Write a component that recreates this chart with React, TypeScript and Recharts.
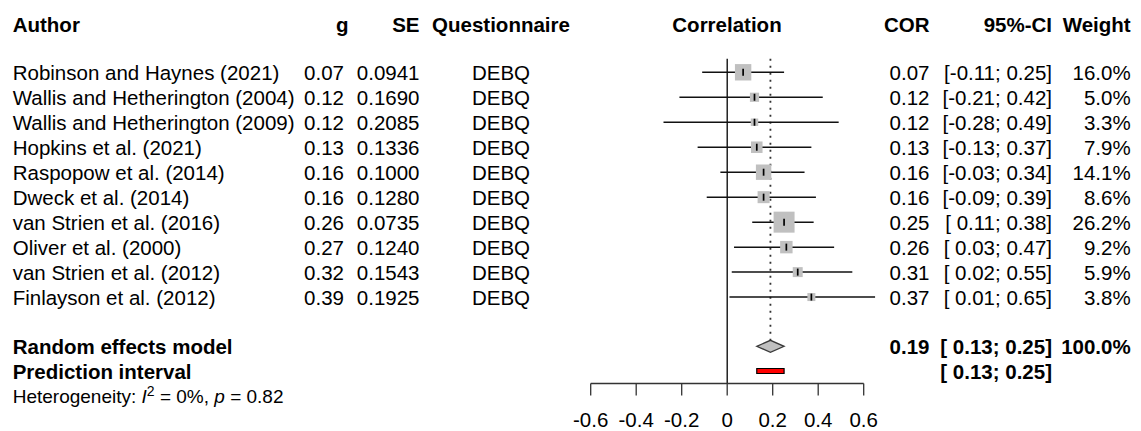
import React from 'react';
import {
  ComposedChart,
  Scatter,
  XAxis,
  YAxis,
  ReferenceLine,
  ReferenceArea,
  ErrorBar,
  Customized,
} from 'recharts';

const FONT = '"Liberation Sans", Arial, Helvetica, sans-serif';

// ---------- data ----------
const authors = [
  'Robinson and Haynes (2021)',
  'Wallis and Hetherington (2004)',
  'Wallis and Hetherington (2009)',
  'Hopkins et al. (2021)',
  'Raspopow et al. (2014)',
  'Dweck et al. (2014)',
  'van Strien et al. (2016)',
  'Oliver et al. (2000)',
  'van Strien et al. (2012)',
  'Finlayson et al. (2012)',
];
const gValues = ['0.07', '0.12', '0.12', '0.13', '0.16', '0.16', '0.26', '0.27', '0.32', '0.39'];
const seValues = ['0.0941', '0.1690', '0.2085', '0.1336', '0.1000', '0.1280', '0.0735', '0.1240', '0.1543', '0.1925'];
const questionnaires = ['DEBQ', 'DEBQ', 'DEBQ', 'DEBQ', 'DEBQ', 'DEBQ', 'DEBQ', 'DEBQ', 'DEBQ', 'DEBQ'];
const corValues = [0.07, 0.12, 0.12, 0.13, 0.16, 0.16, 0.25, 0.26, 0.31, 0.37];
const ciLower = [-0.11, -0.21, -0.28, -0.13, -0.03, -0.09, 0.11, 0.03, 0.02, 0.01];
const ciUpper = [0.25, 0.42, 0.49, 0.37, 0.34, 0.39, 0.38, 0.47, 0.55, 0.65];
const weights = [16.0, 5.0, 3.3, 7.9, 14.1, 8.6, 26.2, 9.2, 5.9, 3.8];

const pooledEst = 0.19;
const pooledLower = 0.13;
const pooledUpper = 0.25;
const pooledWeight = 100.0;
const predLower = 0.13;
const predUpper = 0.25;
const hetI2 = '0%';
const hetP = '0.82';

const xTicks = [-0.6, -0.4, -0.2, 0, 0.2, 0.4, 0.6];
const headers = ['Author', 'g', 'SE', 'Questionnaire', 'Correlation', 'COR', '95%-CI', 'Weight'];

// row positions (row units on the y axis)
const ROW0 = 0.54;
const SUMMARY_ROW = 11.51;
const PRED_ROW = 12.5;

const fmtCI = (lo: number, hi: number) => {
  const f = (v: number) => (v < 0 ? v.toFixed(2) : ' ' + v.toFixed(2));
  return '[' + f(lo) + ';' + ' ' + hi.toFixed(2) + ']';
};

const studies = authors.map((a, i) => ({
  x: corValues[i],
  y: ROW0 + i,
  weight: weights[i],
  err: [corValues[i] - ciLower[i], ciUpper[i] - corValues[i]],
}));

const textRows = [
  ...authors.map((a, i) => ({
    x: 0,
    y: ROW0 + i,
    author: a,
    g: gValues[i],
    se: seValues[i],
    q: questionnaires[i],
    cor: corValues[i].toFixed(2),
    ci: fmtCI(ciLower[i], ciUpper[i]),
    w: weights[i].toFixed(1) + '%',
    bold: false,
  })),
  {
    x: 0,
    y: SUMMARY_ROW,
    author: 'Random effects model',
    g: '',
    se: '',
    q: '',
    cor: pooledEst.toFixed(2),
    ci: fmtCI(pooledLower, pooledUpper),
    w: pooledWeight.toFixed(1) + '%',
    bold: true,
  },
  {
    x: 0,
    y: PRED_ROW,
    author: 'Prediction interval',
    g: '',
    se: '',
    q: '',
    cor: '',
    ci: fmtCI(predLower, predUpper),
    w: '',
    bold: true,
  },
];

// column x anchors
const COL = {
  author: 12.7,
  g: 344,
  se: 419.5,
  q: 501,
  corr: 727,
  cor: 929.5,
  ci: 1052,
  w: 1130.7,
};

const FS = 20.5;

const SquareShape = (props: any) => {
  const { cx, cy, payload } = props;
  if (cx == null || cy == null) return <g />;
  const s = 4.1 * Math.sqrt(payload.weight);
  return <rect x={cx - s / 2} y={cy - s / 2} width={s} height={s} fill="#C0C0C0" />;
};

const TickShape = (props: any) => {
  const { cx, cy } = props;
  if (cx == null || cy == null) return <g />;
  return <line x1={cx} x2={cx} y1={cy - 3.5} y2={cy + 3.5} stroke="#000" strokeWidth={1.7} />;
};

const RowText = (props: any) => {
  const { cy, payload } = props;
  if (cy == null) return <g />;
  const y = cy + 7.5;
  const fw = payload.bold ? 'bold' : 'normal';
  return (
    <g fontFamily={FONT} fontSize={FS} fill="#000" fontWeight={fw} style={{ whiteSpace: 'pre' }}>
      <text x={COL.author} y={y}>{payload.author}</text>
      {payload.g ? <text x={COL.g} y={y} textAnchor="end">{payload.g}</text> : null}
      {payload.se ? <text x={COL.se} y={y} textAnchor="end">{payload.se}</text> : null}
      {payload.q ? <text x={COL.q} y={y} textAnchor="middle">{payload.q}</text> : null}
      {payload.cor ? <text x={COL.cor} y={y} textAnchor="end">{payload.cor}</text> : null}
      {payload.ci ? <text x={COL.ci} y={y} textAnchor="end" xmlSpace="preserve">{payload.ci}</text> : null}
      {payload.w ? <text x={COL.w} y={y} textAnchor="end">{payload.w}</text> : null}
    </g>
  );
};

const DiamondShape = (props: any) => {
  const { x, y, width, height } = props;
  if (x == null) return <g />;
  const xm = x + (width * (pooledEst - pooledLower)) / (pooledUpper - pooledLower);
  const ym = y + height / 2;
  const pts = `${x},${ym} ${xm},${y} ${x + width},${ym} ${xm},${y + height}`;
  return <polygon points={pts} fill="#C0C0C0" stroke="#3a3a3a" strokeWidth={1.3} />;
};

const StaticText = () => (
  <g fontFamily={FONT} fill="#000">
    <g fontSize={FS} fontWeight="bold">
      <text x={COL.author} y={31.7}>{headers[0]}</text>
      <text x={348.5} y={31.7} textAnchor="end">{headers[1]}</text>
      <text x={COL.se} y={31.7} textAnchor="end">{headers[2]}</text>
      <text x={COL.q} y={31.7} textAnchor="middle">{headers[3]}</text>
      <text x={COL.corr} y={31.7} textAnchor="middle">{headers[4]}</text>
      <text x={COL.cor} y={31.7} textAnchor="end">{headers[5]}</text>
      <text x={COL.ci} y={31.7} textAnchor="end">{headers[6]}</text>
      <text x={COL.w} y={31.7} textAnchor="end">{headers[7]}</text>
    </g>
    <text x={COL.author} y={403.3} fontSize={19}>
      <tspan>Heterogeneity: </tspan>
      <tspan fontStyle="italic">I</tspan>
      <tspan fontSize={14} dy={-7}>2</tspan>
      <tspan dy={7}>{' = ' + hetI2 + ', '}</tspan>
      <tspan fontStyle="italic">p</tspan>
      <tspan>{' = ' + hetP}</tspan>
    </text>
  </g>
);

export default function App() {
  return (
    <div style={{ position: 'absolute', left: 0, top: 0, background: '#fff' }}>
      <ComposedChart
        width={1141}
        height={431}
        margin={{ top: 58.8, right: 254.55, bottom: 7.5, left: 567.95 }}
      >
        <XAxis
          type="number"
          dataKey="x"
          domain={[-0.7, 0.7]}
          ticks={xTicks}
          interval={0}
          tickFormatter={(v: number) => (v === 0 ? '0' : v.toFixed(1))}
          axisLine={false}
          tickLine={{ stroke: '#333', strokeWidth: 1.3 }}
          tickSize={12}
          tickMargin={17.4}
          height={40}
          tick={{ fill: '#000', fontSize: FS, fontFamily: FONT }}
        />
        <YAxis type="number" dataKey="y" domain={[0, 13]} reversed hide />

        <ReferenceLine x={0} stroke="#000" strokeWidth={1.3} />
        <ReferenceLine
          segment={[{ x: -0.6, y: 13 }, { x: 0.6, y: 13 }]}
          stroke="#333"
          strokeWidth={1.3}
        />
        <ReferenceLine
          segment={[{ x: pooledEst, y: 0 }, { x: pooledEst, y: 11.27 }]}
          stroke="#333"
          strokeWidth={1.8}
          strokeDasharray="2 5"
        />

        <Scatter data={studies} shape={SquareShape} isAnimationActive={false} />
        <Scatter data={studies} shape={TickShape} isAnimationActive={false}>
          <ErrorBar
            dataKey="err"
            direction="x"
            width={0}
            stroke="#111"
            strokeWidth={1.5}
            isAnimationActive={false}
          />
        </Scatter>

        <ReferenceArea
          x1={pooledLower}
          x2={pooledUpper}
          y1={SUMMARY_ROW - 0.24}
          y2={SUMMARY_ROW + 0.24}
          shape={DiamondShape}
        />
        <ReferenceArea
          x1={predLower}
          x2={predUpper}
          y1={PRED_ROW - 0.1}
          y2={PRED_ROW + 0.1}
          fill="#FF0000"
          fillOpacity={1}
          stroke="#000"
          strokeWidth={1.2}
        />

        <Scatter data={textRows} shape={RowText} isAnimationActive={false} />
        <Customized component={<StaticText />} />
      </ComposedChart>
    </div>
  );
}
